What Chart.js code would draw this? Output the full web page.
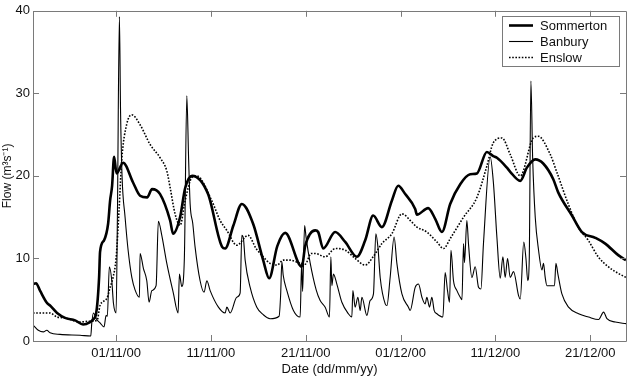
<!DOCTYPE html>
<html>
<head>
<meta charset="utf-8">
<script src="https://cdn.jsdelivr.net/npm/chart.js@4.4.1/dist/chart.umd.min.js"></script>
<style>
html,body{margin:0;padding:0;background:#fff;}
#wrap{width:630px;height:378px;}
</style>
</head>
<body>
<div id="wrap"><canvas id="c" width="630" height="378"></canvas></div>
<script>
// Days counted from 01/11/00 (day 0)
const tickDays = [0, 10, 20, 30, 40, 50];
const tickLabels = ['01/11/00', '11/11/00', '21/11/00', '01/12/00', '11/12/00', '21/12/00'];
const yTicks = [0, 10, 20, 30, 40];
const seriesNames = ['Sommerton', 'Banbury', 'Enslow'];

const sommertonDays = [-8.76,-8.44,-8.02,-7.28,-6.96,-6.22,-5.38,-4.32,-3.48,-2.74,-2.43,-2.11,-1.79,-1.69,-1.27,-0.84,-0.63,-0.42,-0.21,0.05,0.74,1.79,2.53,3.27,3.80,4.64,5.70,6.01,6.75,7.28,8.02,9.70,11.18,11.50,12.37,13.26,14.45,15.51,16.14,17.0,17.83,19.59,19.94,21.0,21.31,21.84,23.10,24.16,25.39,26.27,27.11,28.03,29.08,29.75,30.49,31.54,31.72,32.91,33.65,34.36,35.23,36.29,37.34,38.05,39.10,39.77,40.16,41.21,41.56,42.62,43.32,44.20,45.04,46.10,46.62,48.07,49.12,50.53,51.58,52.95,53.77];
const sommertonFlow = [6.9,7.0,6.1,4.6,4.3,3.4,2.8,2.5,2.0,2.3,2.6,3.3,7.7,10.8,12.2,14.2,17.0,18.8,22.3,20.3,21.6,19.2,17.6,17.4,18.4,17.8,14.6,13.0,15.0,18.5,20.0,17.8,11.4,11.2,14.0,16.6,14.2,9.8,7.6,11.5,13.1,9.0,11.5,13.4,13.2,11.2,13.2,12.0,10.2,12.2,15.2,13.8,17.0,18.8,17.8,16.0,15.3,16.1,14.8,13.2,16.6,19.0,20.2,20.3,22.9,22.4,22.2,21.0,20.5,19.4,21.0,22.0,21.5,19.6,18.0,15.2,13.2,12.5,11.8,10.4,9.8];

const banburyDays = [-8.72,-8.20,-7.67,-7.31,-6.96,-5.91,-3.80,-2.67,-2.56,-2.39,-2.04,-1.69,-1.27,-1.05,-0.92,-0.71,-0.45,-0.28,0.00,0.14,0.35,0.47,0.63,0.95,1.27,1.66,2.00,2.46,2.53,2.88,3.24,3.48,3.77,4.22,4.46,4.82,5.35,6.04,6.54,6.68,6.93,7.20,7.46,7.65,7.81,8.09,8.33,8.86,9.28,9.57,9.92,10.79,11.50,11.68,12.03,12.73,13.08,13.26,13.43,13.61,14.14,14.84,15.51,16.24,17.19,17.35,17.48,17.62,18.01,18.70,19.41,19.57,19.67,19.88,20.04,20.46,21.10,21.52,22.05,22.50,22.65,22.75,22.92,23.28,23.81,24.50,24.86,24.97,25.21,25.50,25.74,25.92,26.45,26.79,27.14,27.39,27.61,27.85,28.38,28.56,28.90,29.32,29.61,30.14,30.83,31.01,31.54,31.89,32.25,32.59,32.77,33.05,33.30,33.54,33.83,34.46,34.70,34.95,35.16,35.31,35.58,35.94,36.29,36.47,36.64,36.74,36.99,37.16,37.52,37.87,38.22,38.47,38.74,39.45,39.80,40.16,40.51,40.79,41.03,41.28,41.56,41.91,42.44,42.62,42.99,43.22,43.41,43.57,43.74,43.93,44.20,44.55,44.91,45.07,45.25,45.43,46.23,46.38,46.59,47.01,47.71,48.77,49.82,50.88,51.41,51.76,52.64,53.77];
const banburyFlow = [1.9,1.3,1.1,1.3,1.0,0.8,0.7,0.6,2.2,3.4,2.6,2.2,1.7,3.1,3.0,9.0,7.3,4.6,3.4,15.0,39.3,28.0,20.0,15.0,11.0,7.7,6.2,5.3,10.6,8.8,7.3,4.7,6.1,6.7,14.5,12.8,9.4,5.8,3.4,8.1,6.6,10.0,29.7,22.0,16.6,14.2,11.4,7.3,5.9,7.3,6.1,4.1,3.4,4.1,3.4,5.3,5.8,12.8,12.4,9.8,6.5,4.1,3.2,2.7,3.0,5.5,9.6,8.0,6.1,3.7,2.9,9.5,6.0,14.0,12.5,9.5,6.2,4.9,4.1,2.9,10.2,6.7,8.1,6.9,4.7,3.3,2.9,6.1,4.1,5.3,3.7,5.3,3.1,4.9,5.7,13.0,11.4,7.7,4.5,4.3,7.7,12.6,9.4,5.7,4.1,3.7,6.5,6.9,5.3,4.5,5.3,4.1,5.3,3.7,3.3,2.9,8.3,6.1,4.7,11.0,7.3,6.1,5.3,5.0,11.8,9.5,14.6,11.8,7.7,9.0,6.5,6.3,11.8,22.3,19.0,12.5,7.6,10.2,7.7,10.0,7.7,8.4,5.5,5.1,12.0,10.0,7.3,10.0,31.5,22.0,15.0,11.0,8.6,9.4,7.7,6.7,6.7,9.4,8.1,5.7,4.1,3.3,2.9,2.6,3.5,2.7,2.3,2.1];

const enslowDays = [-8.76,-6.96,-6.22,-5.38,-3.80,-2.74,-2.00,-1.69,-0.95,-0.63,-0.32,0.00,0.32,0.60,1.13,1.66,2.53,3.59,4.64,5.35,5.70,6.22,6.75,7.28,7.99,8.51,10.09,10.97,11.68,12.73,13.92,14.77,15.51,16.24,16.98,17.62,18.35,19.41,19.94,20.57,21.0,22.05,23.10,24.16,25.21,26.27,27.11,28.03,29.08,30.14,31.19,31.72,32.77,33.83,34.53,35.23,36.64,38.05,39.10,39.77,40.69,41.56,42.62,43.99,44.51,45.78,46.49,47.68,48.73,49.79,50.84,51.90,52.95,53.77];
const enslowFlow = [3.4,3.4,2.9,2.8,2.3,2.4,2.5,4.3,5.2,6.5,7.7,10.0,16.0,22.0,26.3,27.4,26.2,23.8,22.2,20.6,18.6,15.4,14.0,17.0,19.8,20.0,17.0,14.6,13.4,11.6,12.8,11.2,10.2,9.4,9.2,9.8,9.8,9.4,9.3,10.6,10.6,10.2,11.2,11.0,10.0,9.2,10.2,11.8,13.0,15.4,14.4,13.8,13.2,12.0,11.2,12.4,15.0,17.4,21.2,24.0,24.6,22.6,20.0,24.6,24.8,22.6,20.4,16.6,13.8,12.2,10.2,9.0,8.2,7.7];

function pts(xs, ys){ return xs.map((x,i)=>({x:x, y:ys[i]})); }

const AXIS = '#7a7a7a';
const FONT = "'Liberation Sans', Arial, sans-serif";

const frame = {
  id: 'frame',
  afterDatasetsDraw(chart){
    const {ctx, chartArea:a, scales:{x, y}} = chart;
    ctx.save();
    ctx.strokeStyle = AXIS;
    ctx.lineWidth = 1;
    ctx.beginPath();
    ctx.rect(Math.round(a.left)+0.5, Math.round(a.top)+0.5, Math.round(a.right-a.left), Math.round(a.bottom-a.top));
    ctx.stroke();
    const L = 6;
    ctx.beginPath();
    tickDays.forEach(d=>{
      const px = Math.round(x.getPixelForValue(d))+0.5;
      ctx.moveTo(px, a.bottom); ctx.lineTo(px, a.bottom-L);
      ctx.moveTo(px, a.top); ctx.lineTo(px, a.top+L);
    });
    yTicks.forEach(v=>{
      const py = Math.round(y.getPixelForValue(v))+0.5;
      ctx.moveTo(a.left, py); ctx.lineTo(a.left+L, py);
      ctx.moveTo(a.right, py); ctx.lineTo(a.right-L, py);
    });
    ctx.stroke();

    // legend box
    const bx = 502, by = 16, bw = 117, bh = 50;
    ctx.fillStyle = '#fff';
    ctx.fillRect(bx, by, bw, bh);
    ctx.strokeStyle = AXIS;
    ctx.strokeRect(bx+0.5, by+0.5, bw, bh);
    chart.data.datasets.forEach((ds, i)=>{
      const ly = by + 9 + i*16;
      ctx.strokeStyle = ds.borderColor;
      ctx.lineWidth = ds.borderWidth;
      ctx.setLineDash(ds.borderDash || []);
      ctx.beginPath();
      ctx.moveTo(bx+7, ly+0.5); ctx.lineTo(bx+31, ly+0.5);
      ctx.stroke();
      ctx.setLineDash([]);
      ctx.fillStyle = '#111';
      ctx.font = '13px ' + FONT;
      ctx.textBaseline = 'middle';
      ctx.textAlign = 'left';
      ctx.fillText(ds.label, bx+38, ly+1);
    });
    ctx.restore();
  }
};

new Chart(document.getElementById('c'), {
  type: 'line',
  data: {
    datasets: [
      {label: seriesNames[0], data: pts(sommertonDays, sommertonFlow), borderColor:'#000', borderWidth:2.6, pointRadius:0, cubicInterpolationMode:'monotone', order:1},
      {label: seriesNames[1], data: pts(banburyDays, banburyFlow), borderColor:'#000', borderWidth:1.1, pointRadius:0, cubicInterpolationMode:'monotone', order:2},
      {label: seriesNames[2], data: pts(enslowDays, enslowFlow), borderColor:'#000', borderWidth:1.6, borderDash:[1.6,1.6], pointRadius:0, cubicInterpolationMode:'monotone', order:3}
    ]
  },
  options: {
    responsive: false,
    animation: false,
    devicePixelRatio: 1,
    layout: {padding: {left: 0, top: 9, right: 4, bottom: 0}},
    plugins: {legend: {display: false}, tooltip: {enabled: false}},
    scales: {
      x: {
        type: 'linear',
        min: -8.76, max: 53.77,
        grid: {display: false, drawTicks: false},
        border: {display: false},
        afterBuildTicks(s){ s.ticks = tickDays.map(v=>({value:v})); },
        afterFit(s){ s.height = 37; },
        ticks: {
          autoSkip: false, maxRotation: 0, padding: 5,
          color: '#111', font: {family: FONT, size: 13},
          callback(v){ const i = tickDays.indexOf(v); return i >= 0 ? tickLabels[i] : ''; }
        },
        title: {display: true, text: 'Date (dd/mm/yy)', color:'#111', font:{family: FONT, size: 13}, padding:{top:0, bottom:1}}
      },
      y: {
        type: 'linear',
        min: 0, max: 40,
        grid: {display: false, drawTicks: false},
        border: {display: false},
        afterBuildTicks(s){ s.ticks = yTicks.map(v=>({value:v})); },
        afterFit(s){ s.width = 33; },
        ticks: {padding: 3, color:'#111', font: {family: FONT, size: 13}},
        title: {display: true, text: 'Flow (m³s⁻¹)', color:'#111', font:{family: FONT, size: 12}, padding:{top:0, bottom:0}}
      }
    }
  },
  plugins: [frame]
});
</script>
</body>
</html>
